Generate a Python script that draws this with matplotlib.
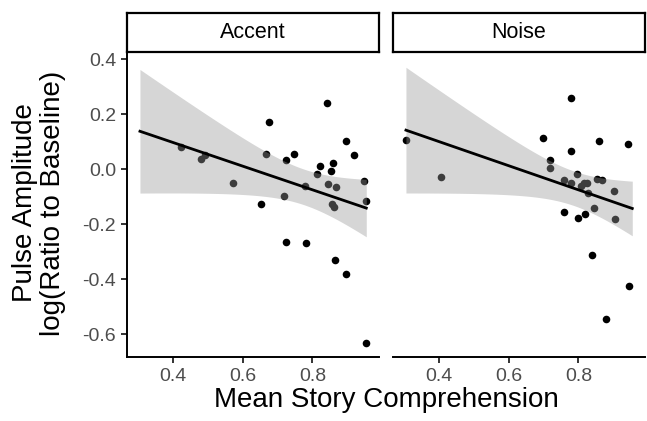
import numpy as np
import matplotlib
matplotlib.use("Agg")
import matplotlib.pyplot as plt

plt.rcParams['font.family'] = ['Liberation Sans', 'DejaVu Sans']

panels = ["Accent", "Noise"]

accent_x = [0.421, 0.479, 0.491, 0.573, 0.652, 0.675, 0.666, 0.718, 0.724, 0.746,
            0.725, 0.781, 0.779, 0.814, 0.821, 0.843, 0.845, 0.854, 0.858, 0.867,
            0.856, 0.862, 0.865, 0.896, 0.898, 0.921, 0.948, 0.955, 0.955]
accent_y = [0.082, 0.039, 0.051, -0.051, -0.126, 0.171, 0.056, -0.097, 0.034, 0.055,
            -0.264, -0.269, -0.062, -0.017, 0.011, 0.242, -0.052, -0.005, 0.022, -0.063,
            -0.126, -0.136, -0.329, 0.104, -0.381, 0.052, -0.043, -0.115, -0.633]

noise_x = [0.304, 0.404, 0.697, 0.719, 0.718, 0.760, 0.760, 0.778, 0.778, 0.779,
           0.796, 0.798, 0.807, 0.817, 0.824, 0.819, 0.827, 0.840, 0.846, 0.854,
           0.867, 0.860, 0.879, 0.902, 0.904, 0.943, 0.946]
noise_y = [0.107, -0.029, 0.115, 0.034, 0.005, -0.038, -0.154, 0.258, 0.067, -0.051,
           -0.017, -0.176, -0.061, -0.049, -0.051, -0.163, -0.085, -0.311, -0.142, -0.035,
           -0.040, 0.104, -0.543, -0.080, -0.181, 0.091, -0.423]

# two-sided 95% t quantiles for df = n - 2
t_quantiles = {27: 2.0518, 25: 2.0595}

xticks = [0.4, 0.6, 0.8]
yticks = [-0.6, -0.4, -0.2, 0.0, 0.2, 0.4]

data = [(np.array(accent_x), np.array(accent_y)), (np.array(noise_x), np.array(noise_y))]
all_x = np.concatenate([d[0] for d in data])
xmin, xmax = all_x.min(), all_x.max()

W, H = 647, 421
fig = plt.figure(figsize=(W / 100, H / 100), dpi=100)

panel_left = [127.3, 393.3]
panel_w = 251.5
p_top, p_bot = 52.0, 356.7
s_top = 12.7

xlim = (0.2676, 0.991)
ylim = (-0.681, 0.4265)

grey30 = "#4D4D4D"
for i, (name, (x, y)) in enumerate(zip(panels, data)):
    ax = fig.add_axes([panel_left[i] / W, 1 - p_bot / H, panel_w / W, (p_bot - p_top) / H])
    ax.scatter(x, y, s=30, color="black", zorder=2, linewidths=0)
    # linear fit with 95% CI
    n = len(x)
    b, a = np.polyfit(x, y, 1)
    xs = np.linspace(xmin, xmax, 100)
    yhat = a + b * xs
    resid = y - (a + b * x)
    s = np.sqrt(np.sum(resid ** 2) / (n - 2))
    sxx = np.sum((x - x.mean()) ** 2)
    se = s * np.sqrt(1 / n + (xs - x.mean()) ** 2 / sxx)
    t = t_quantiles[n - 2]
    ax.fill_between(xs, yhat - t * se, yhat + t * se, color="#999999", alpha=0.4,
                    linewidth=0, zorder=3)
    ax.plot(xs, yhat, color="black", lw=2.0, zorder=4)
    ax.set_xlim(*xlim)
    ax.set_ylim(*ylim)
    ax.set_xticks(xticks)
    ax.set_xticklabels([f"{v:.1f}" for v in xticks])
    for sp in ["top", "right"]:
        ax.spines[sp].set_visible(False)
    ax.spines["bottom"].set_linewidth(1.4)
    ax.spines["left"].set_linewidth(1.4)
    ax.tick_params(axis="both", length=4, width=1.4, color="#333333",
                   labelsize=14, labelcolor=grey30, pad=4)
    if i == 0:
        ax.set_yticks(yticks)
        ax.set_yticklabels([f"{v:.1f}" for v in yticks])
    else:
        ax.spines["left"].set_visible(False)
        ax.set_yticks([])
    # strip
    sax = fig.add_axes([panel_left[i] / W, 1 - p_top / H, panel_w / W, (p_top - s_top) / H])
    sax.set_xticks([])
    sax.set_yticks([])
    for sp in sax.spines.values():
        sp.set_linewidth(1.6)
        sp.set_color("black")
    sax.text(0.5, 0.5, name, ha="center", va="center", fontsize=15.5, transform=sax.transAxes)

fig.text((127.3 + 645) / 2 / W, 1 - 400 / H, "Mean Story Comprehension", ha="center",
         va="center", fontsize=20)
fig.text(39 / W, 1 - 203 / H, "Pulse Amplitude\nlog(Ratio to Baseline)", ha="center",
         va="center", rotation=90, fontsize=20, linespacing=1.1)

fig.savefig("out.png", dpi=100)
